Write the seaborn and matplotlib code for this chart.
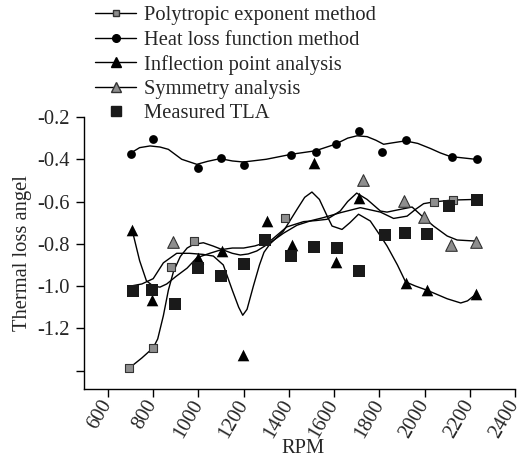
import numpy as np
import pandas as pd
import matplotlib
matplotlib.use("Agg")
import matplotlib.pyplot as plt
from matplotlib.lines import Line2D
import seaborn as sns

# ---------------- data ----------------
heat_rpm = [700, 800, 1000, 1100, 1200, 1410, 1520, 1610, 1710, 1810, 1920, 2120, 2230]
heat_val = [-0.373, -0.305, -0.443, -0.394, -0.427, -0.378, -0.364, -0.327, -0.267,
            -0.364, -0.310, -0.389, -0.401]

meas_rpm = [710, 795, 895, 1000, 1100, 1200, 1295, 1410, 1510, 1615, 1710, 1825, 1915,
            2010, 2110, 2230]
meas_val = [-1.021, -1.018, -1.087, -0.913, -0.951, -0.894, -0.784, -0.860, -0.814,
            -0.820, -0.929, -0.759, -0.751, -0.755, -0.623, -0.591]

poly_rpm = [695, 800, 880, 980, 1385, 2040, 2125]
poly_val = [-1.389, -1.292, -0.912, -0.787, -0.678, -0.602, -0.593]

infl_rpm = [708, 796, 1000, 1105, 1196, 1303, 1412, 1512, 1610, 1708, 1917, 2013, 2228]
infl_val = [-0.735, -1.067, -0.866, -0.833, -1.327, -0.692, -0.808, -0.418, -0.888,
            -0.585, -0.984, -1.018, -1.038]

sym_rpm = [886, 1729, 1908, 1998, 2115, 2228]
sym_val = [-0.792, -0.498, -0.596, -0.675, -0.806, -0.790]

# fitted trend curves
heat_fit_rpm = [697, 740, 786, 830, 867, 926, 993, 1040, 1096, 1150, 1199, 1300, 1413, 1517,
                1605, 1660, 1701, 1746, 1785, 1819, 1860, 1915, 1970, 2026, 2070, 2114, 2225]
heat_fit_val = [-0.373, -0.345, -0.337, -0.342, -0.353, -0.400, -0.424, -0.410, -0.397,
                -0.408, -0.413, -0.400, -0.376, -0.360, -0.329, -0.300, -0.289, -0.293,
                -0.310, -0.329, -0.322, -0.313, -0.325, -0.349, -0.370, -0.387, -0.400]

poly_fit_rpm = [693, 750, 800, 820, 845, 867, 890, 920, 950, 978, 1022, 1066, 1104, 1150,
                1185, 1220, 1258, 1317, 1376, 1436, 1500, 1553, 1627, 1716, 1805, 1863,
                1923, 1960, 1996, 2040, 2122, 2225]
poly_fit_val = [-1.389, -1.340, -1.292, -1.250, -1.140, -1.020, -0.930, -0.860, -0.820,
                -0.803, -0.795, -0.811, -0.827, -0.845, -0.853, -0.848, -0.834, -0.795,
                -0.750, -0.712, -0.690, -0.676, -0.653, -0.629, -0.650, -0.680, -0.669,
                -0.637, -0.610, -0.602, -0.593, -0.590]

infl_fit_rpm = [700, 750, 800, 845, 904, 960, 1020, 1066, 1110, 1150, 1178, 1196, 1215,
                1243, 1270, 1290, 1317, 1376, 1436, 1470, 1502, 1535, 1569, 1591, 1635,
                1670, 1708, 1760, 1805, 1834, 1880, 1916, 1960, 2012, 2100, 2160, 2190, 2228]
infl_fit_val = [-1.000, -0.990, -0.965, -0.890, -0.845, -0.845, -0.850, -0.858, -0.900,
                -1.020, -1.100, -1.138, -1.110, -1.000, -0.900, -0.840, -0.800, -0.740,
                -0.637, -0.580, -0.555, -0.590, -0.668, -0.716, -0.732, -0.700, -0.660,
                -0.692, -0.763, -0.810, -0.900, -0.980, -1.000, -1.020, -1.060, -1.080,
                -1.070, -1.038]

sym_fit_rpm = [707, 740, 770, 800, 830, 860, 900, 950, 993, 1050, 1104, 1150, 1200, 1250,
               1317, 1391, 1465, 1520, 1569, 1627, 1660, 1700, 1746, 1805, 1834, 1893,
               1945, 1996, 2040, 2100, 2144, 2225]
sym_fit_val = [-0.735, -0.880, -0.975, -1.000, -1.005, -0.990, -0.955, -0.915, -0.866,
               -0.845, -0.827, -0.820, -0.820, -0.810, -0.787, -0.720, -0.695, -0.690,
               -0.684, -0.645, -0.600, -0.560, -0.590, -0.645, -0.650, -0.637, -0.626,
               -0.676, -0.716, -0.763, -0.782, -0.787]

legend_labels = ["Polytropic exponent method", "Heat loss function method",
                 "Inflection point analysis", "Symmetry analysis", "Measured TLA"]
x_ticks = [600, 800, 1000, 1200, 1400, 1600, 1800, 2000, 2200, 2400]
y_ticks = [-0.2, -0.4, -0.6, -0.8, -1.0, -1.2, -1.4]
y_tick_labels = ["-0.2", "-0.4", "-0.6", "-0.8", "-1.0", "-1.2", ""]

# ---------------- style ----------------
sns.set_style("ticks")
plt.rcParams["font.family"] = ["Liberation Serif", "DejaVu Serif"]
FS = 14.8
GRAY = "#8e8e8e"
LW = 1.0

fig = plt.figure(figsize=(5.19, 4.62), dpi=100)
ax = fig.add_axes([84 / 519, 1 - 389 / 462, (515 - 84) / 519, (389 - 117) / 462])

# trend curves
for rx, ry in [(heat_fit_rpm, heat_fit_val), (poly_fit_rpm, poly_fit_val),
               (infl_fit_rpm, infl_fit_val), (sym_fit_rpm, sym_fit_val)]:
    sns.lineplot(x=rx, y=ry, ax=ax, color="black", linewidth=LW, sort=False,
                 estimator=None, legend=False)

# markers
sns.scatterplot(x=poly_rpm, y=poly_val, ax=ax, marker="s", s=34, color=GRAY,
                edgecolor="#333333", linewidth=0.8, zorder=3, legend=False)
sns.scatterplot(x=sym_rpm, y=sym_val, ax=ax, marker="^", s=70, color=GRAY,
                edgecolor="#333333", linewidth=0.8, zorder=3, legend=False)
sns.scatterplot(x=heat_rpm, y=heat_val, ax=ax, marker="o", s=40, color="black",
                edgecolor="black", linewidth=0, zorder=4, legend=False)
sns.scatterplot(x=infl_rpm, y=infl_val, ax=ax, marker="^", s=70, color="black",
                edgecolor="black", linewidth=0, zorder=4, legend=False)
sns.scatterplot(x=meas_rpm, y=meas_val, ax=ax, marker="s", s=80, color="#1a1a1a",
                edgecolor="#1a1a1a", linewidth=0, zorder=5, legend=False)

ax.set_xlim(494, 2400)
ax.set_ylim(-1.487, -0.2)
ax.set_xticks(x_ticks)
ax.set_xticklabels([str(v) for v in x_ticks], rotation=60, ha="right",
                   va="center", rotation_mode="anchor", fontsize=FS)
ax.set_yticks(y_ticks)
ax.set_yticklabels(y_tick_labels, fontsize=FS)
ax.tick_params(axis="both", direction="out", length=6, width=1.0, color="black", pad=4)
ax.tick_params(axis="x", pad=3)
for side in ["top", "right"]:
    ax.spines[side].set_visible(False)
for side in ["left", "bottom"]:
    ax.spines[side].set_linewidth(1.0)
    ax.spines[side].set_color("black")

ax.set_xlabel("RPM", fontsize=FS)
ax.xaxis.set_label_coords(0.508, -0.185)
ax.set_ylabel("Thermal loss angel", fontsize=FS, labelpad=4)

handles = [
    Line2D([], [], color="black", lw=LW, marker="s", ms=5, mfc=GRAY, mec="#333333"),
    Line2D([], [], color="black", lw=LW, marker="o", ms=5.5, mfc="black", mec="black"),
    Line2D([], [], color="black", lw=LW, marker="^", ms=7, mfc="black", mec="black"),
    Line2D([], [], color="black", lw=LW, marker="^", ms=6.5, mfc=GRAY, mec="#333333"),
    Line2D([], [], color="none", lw=0, marker="s", ms=7, mfc="#1a1a1a", mec="#1a1a1a"),
]
fig.legend(handles, legend_labels, loc="upper left",
           bbox_to_anchor=(95 / 519, 1 - 6 / 462), frameon=False, fontsize=FS,
           handlelength=2.0, handletextpad=0.4, labelspacing=0.24, borderpad=0,
           borderaxespad=0)

fig.savefig("out.png", dpi=100)
